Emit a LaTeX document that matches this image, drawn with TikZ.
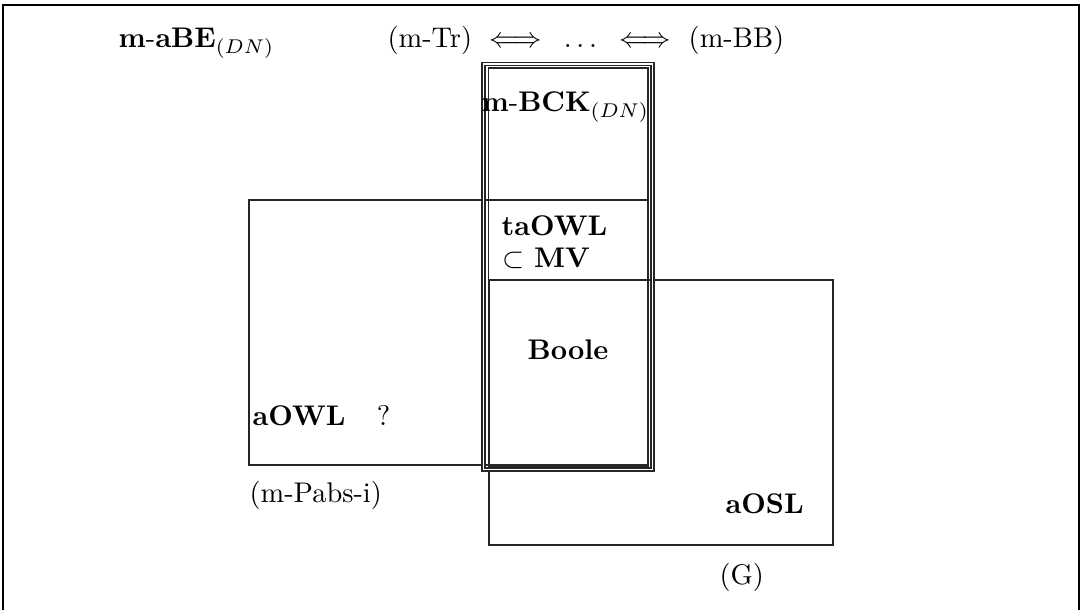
\documentclass[tikz,border=0pt]{standalone}
\usepackage{amsmath}
\begin{document}
\begin{tikzpicture}[x=0.352pt,y=-0.352pt,
  frame/.style={draw=black,line width=0.45pt},
  box/.style={draw=black!85,line width=0.4pt},
  lbl/.style={inner sep=0pt,anchor=base west}]
\useasboundingbox (0,0) rectangle (1080,610);
\draw[frame] (3,5) rectangle (1079,612);
% rectangles
\draw[box] (249,200) rectangle (648,465);
\draw[box] (489,280) rectangle (833,545);
\draw[box,double,double distance=0.7pt] (483.5,64) rectangle (652.5,469.5);
\draw[box] (488.5,68) rectangle (648,466);
% labels
\node[lbl] (abe) at (118,48) {$\mathbf{m\text{-}aBE}_{(DN)}$};
\node[lbl] (tr) at (387,48) {(m-Tr) $\iff\hspace{2.3pt}\ldots\hspace{2.3pt}\iff$ (m-BB)};
\node[lbl] (bck) at (481,112) {$\mathbf{m\text{-}BCK}_{(DN)}$};
\node[lbl] (taowl) at (501,236) {\textbf{taOWL}};
\node[lbl] (mv) at (502,268) {$\subset$ \textbf{MV}};
\node[lbl] (boole) at (527,360) {\textbf{Boole}};
\node[lbl] (aowl) at (252,426) {\textbf{aOWL}\hspace{11pt}?};
\node[lbl] (pabs) at (249,503) {(m-Pabs-i)};
\node[lbl] (aosl) at (725,514) {\textbf{aOSL}};
\node[lbl] (g) at (719,585) {(G)};
\end{tikzpicture}
\end{document}
